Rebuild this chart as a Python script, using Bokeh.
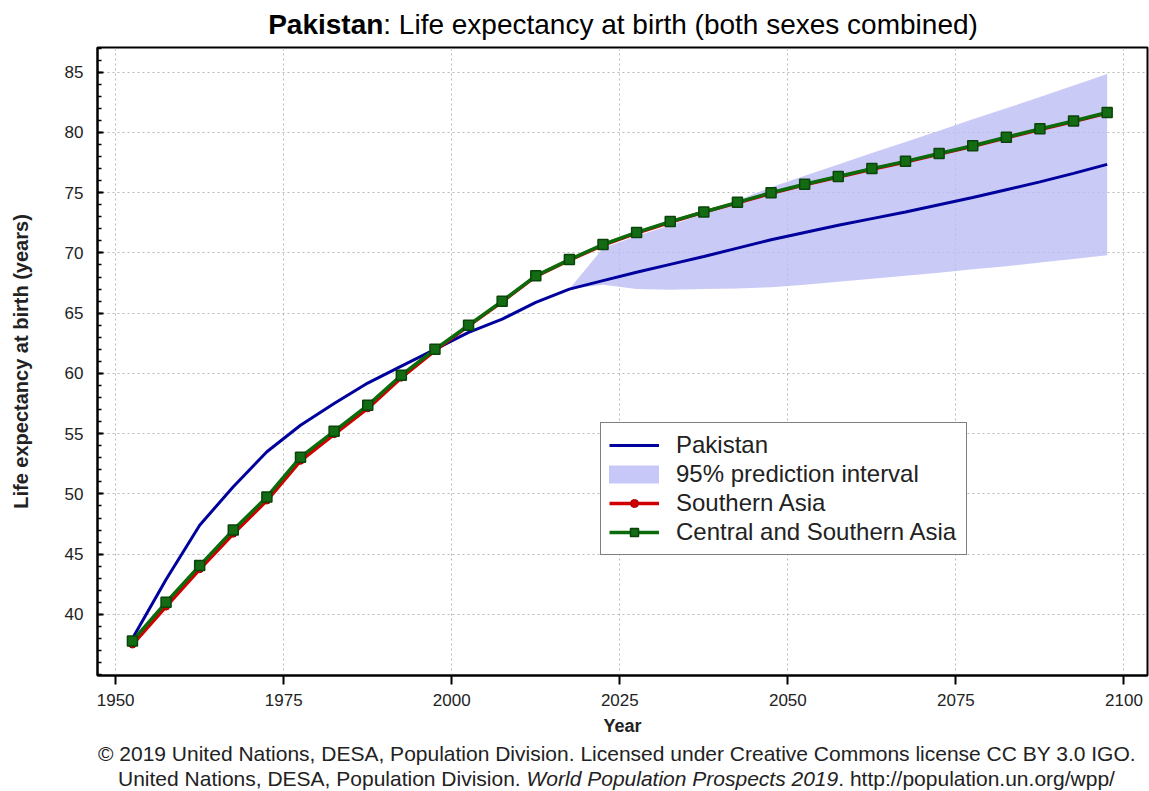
from bokeh.plotting import figure
from bokeh.models import Range1d, FixedTicker, Legend, LegendItem, Div
from bokeh.layouts import column
from bokeh.embed import file_html
from bokeh.resources import INLINE

# ---------------- data ----------------
years = [1952.5, 1957.5, 1962.5, 1967.5, 1972.5, 1977.5, 1982.5, 1987.5, 1992.5, 1997.5,
         2002.5, 2007.5, 2012.5, 2017.5, 2022.5, 2027.5, 2032.5, 2037.5, 2042.5, 2047.5,
         2052.5, 2057.5, 2062.5, 2067.5, 2072.5, 2077.5, 2082.5, 2087.5, 2092.5, 2097.5]

pakistan = [38.0, 42.9, 47.4, 50.6, 53.5, 55.7, 57.5, 59.2, 60.6, 62.0,
            63.4, 64.5, 65.9, 67.0, 67.7, 68.4, 69.05, 69.7, 70.4, 71.1,
            71.7, 72.3, 72.85, 73.4, 74.0, 74.6, 75.25, 75.9, 76.6, 77.35]

southern_asia = [37.5, 40.65, 43.75, 46.7, 49.45, 52.75, 54.95, 57.1, 59.65, 61.9,
                 63.95, 65.95, 68.05, 69.4, 70.65, 71.65, 72.55, 73.4, 74.15, 74.95,
                 75.65, 76.3, 76.95, 77.55, 78.2, 78.85, 79.55, 80.25, 80.9, 81.6]

central_southern_asia = [37.8, 41.0, 44.05, 47.0, 49.75, 53.05, 55.2, 57.35, 59.85, 62.0,
                         64.0, 66.0, 68.1, 69.45, 70.7, 71.7, 72.6, 73.4, 74.2, 75.0,
                         75.7, 76.35, 77.0, 77.6, 78.25, 78.9, 79.6, 80.3, 80.95, 81.65]

band_years = [2017.5, 2022.5, 2027.5, 2032.5, 2037.5, 2042.5, 2047.5, 2052.5, 2057.5,
              2062.5, 2067.5, 2072.5, 2077.5, 2082.5, 2087.5, 2092.5, 2097.5]
band_lower = [67.0, 67.35, 67.0, 66.95, 67.0, 67.05, 67.15, 67.35, 67.6,
              67.85, 68.1, 68.35, 68.65, 68.9, 69.2, 69.5, 69.8]
band_upper = [67.0, 70.4, 71.4, 72.3, 73.25, 74.35, 75.45, 76.4, 77.35,
              78.3, 79.2, 80.15, 81.1, 82.0, 82.95, 83.9, 84.85]

x_ticks = [1950, 1975, 2000, 2025, 2050, 2075, 2100]
y_ticks = [40, 45, 50, 55, 60, 65, 70, 75, 80, 85]
y_minor = list(range(35, 88))

title_country = "Pakistan"
title_rest = ": Life expectancy at birth (both sexes combined)"
footer_line1 = "\u00a9 2019 United Nations, DESA, Population Division. Licensed under Creative Commons license CC BY 3.0 IGO."
footer_line2a = "United Nations, DESA, Population Division. "
footer_line2b = "World Population Prospects 2019"
footer_line2c = ". http://population.un.org/wpp/"

FONT = "Liberation Sans"
TXT = "#222222"

# ---------------- title ----------------
title_div = Div(
    text=(f'<div style="width:1052px;margin-left:97px;text-align:center;white-space:nowrap;'
          f'font-family:\'{FONT}\',Arial,sans-serif;font-size:28px;line-height:50px;color:#000;">'
          f'<b>{title_country}</b>{title_rest}</div>'),
    width=1149, height=45, margin=(0, 0, 0, 0))

# ---------------- figure ----------------
p = figure(width=1149, height=696,
           x_range=Range1d(1947.3, 2103.5), y_range=Range1d(34.93, 87.05),
           output_backend="svg", toolbar_location=None,
           min_border_left=97, min_border_right=2, min_border_top=2, min_border_bottom=66,
           background_fill_color="white", border_fill_color="white")

p.outline_line_color = "black"
p.outline_line_width = 2

p.xaxis.ticker = FixedTicker(ticks=x_ticks)
p.yaxis.ticker = FixedTicker(ticks=y_ticks, minor_ticks=y_minor)
for ax in (p.xaxis[0], p.yaxis[0]):
    ax.axis_line_color = "black"
    ax.axis_line_width = 2
    ax.major_tick_line_color = "black"
    ax.major_tick_line_width = 2
    ax.minor_tick_line_color = "black"
    ax.minor_tick_line_width = 1.5
    ax.major_label_text_font = FONT
    ax.major_label_text_font_size = "17px"
    ax.major_label_text_color = TXT
    ax.axis_label_text_font = FONT
    ax.axis_label_text_font_style = "bold"
    ax.axis_label_text_color = TXT

p.xaxis.major_tick_in = 0
p.xaxis.major_tick_out = 9
p.xaxis.minor_tick_in = 0
p.xaxis.minor_tick_out = 0
p.xaxis.major_label_standoff = 9
p.xaxis.axis_label = "Year"
p.xaxis.axis_label_text_font_size = "18px"
p.xaxis.axis_label_standoff = 7

p.yaxis.major_tick_in = 6
p.yaxis.major_tick_out = 0
p.yaxis.minor_tick_in = 4
p.yaxis.minor_tick_out = 0
p.yaxis.major_label_standoff = 14
p.yaxis.axis_label = "Life expectancy at birth (years)"
p.yaxis.axis_label_text_font_size = "20px"
p.yaxis.axis_label_standoff = 30

p.xgrid.ticker = FixedTicker(ticks=x_ticks)
p.ygrid.ticker = FixedTicker(ticks=y_ticks)
p.grid.grid_line_color = "#b8b8b8"
p.grid.grid_line_dash = "2 3"
p.grid.grid_line_width = 1

# ---------------- glyphs ----------------
band = p.varea(x=band_years, y1=band_lower, y2=band_upper,
               fill_color="#bdbdf5", fill_alpha=0.8)
# legend swatch for the interval (drawn outside the visible range)
band_swatch = p.line(x=[1900, 1901], y=[60, 60], line_color="#c8c8f8",
                     line_width=18, line_cap="round")

blue = p.line(years, pakistan, line_color="#00009c", line_width=3)

red_line = p.line(years, southern_asia, line_color="#d00000", line_width=3.5)
red_pts = p.scatter(years, southern_asia, marker="circle", size=7,
                    fill_color="#d00000", line_color="#a00000")

green_line = p.line(years, central_southern_asia, line_color="#0b6b0b", line_width=3.5)
green_pts = p.scatter(years, central_southern_asia, marker="square", size=10,
                      fill_color="#136b13", line_color="#0a440a", line_width=1.5)

legend = Legend(items=[
    LegendItem(label="Pakistan", renderers=[blue]),
    LegendItem(label="95% prediction interval", renderers=[band_swatch]),
    LegendItem(label="Southern Asia", renderers=[red_line, red_pts]),
    LegendItem(label="Central and Southern Asia", renderers=[green_line, green_pts]),
], location=(503, 120))
legend.margin = 0
legend.padding = 8
legend.spacing = 1
legend.glyph_width = 50
legend.glyph_height = 20
legend.label_height = 28
legend.label_width = 282
legend.label_standoff = 17
legend.label_text_font = FONT
legend.label_text_font_size = "24px"
legend.label_text_color = TXT
legend.border_line_color = "black"
legend.border_line_width = 1.5
legend.background_fill_color = "white"
legend.background_fill_alpha = 1.0
p.add_layout(legend)

# ---------------- footer ----------------
footer_div = Div(
    text=(f'<div style="font-family:\'{FONT}\',Arial,sans-serif;font-size:21px;line-height:25px;'
          f'color:{TXT};white-space:nowrap;">'
          f'<div style="padding-left:98px;">{footer_line1}</div>'
          f'<div style="padding-left:118px;">{footer_line2a}<i>{footer_line2b}</i>{footer_line2c}</div>'
          f'</div>'),
    width=1149, height=50, margin=(0, 0, 0, 0))

layout = column(title_div, p, footer_div, spacing=0)

open("out.html", "w").write(file_html(layout, INLINE))
